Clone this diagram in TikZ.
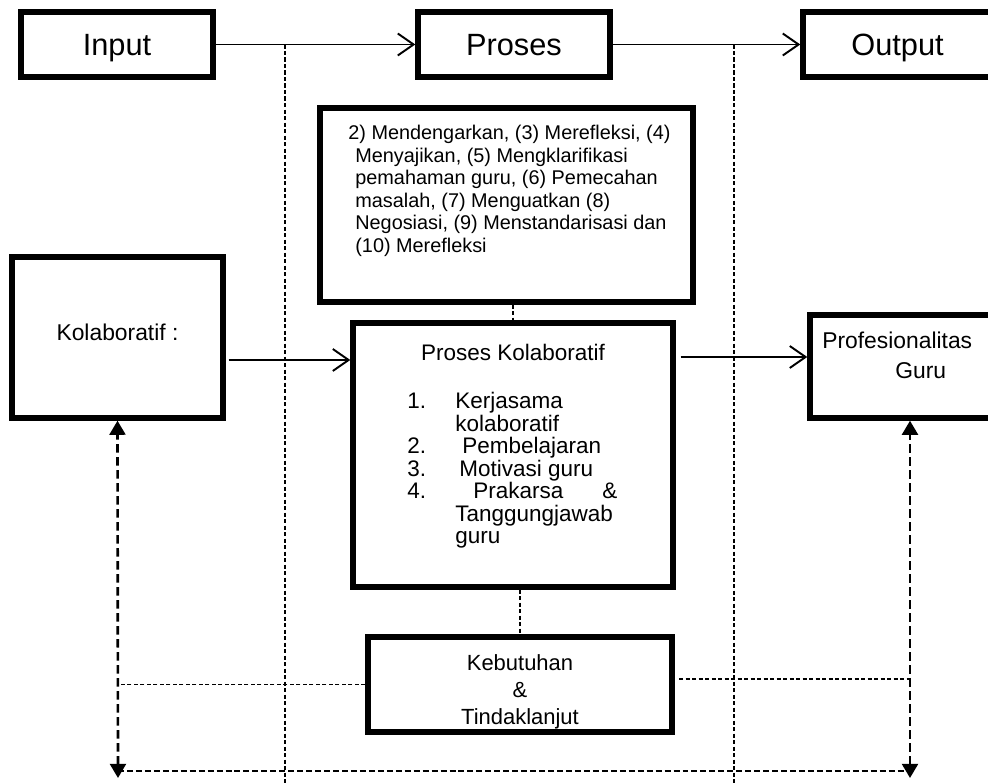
\documentclass[tikz,border=0pt]{standalone}
\usepackage{fontspec}
\setmainfont{Liberation Sans}
\usetikzlibrary{arrows.meta, calc, positioning}

\begin{document}
\begin{tikzpicture}[
    x=0.02cm, y=-0.02cm,
    box/.style={rectangle, draw, line width=3.1pt, inner sep=0pt},
    head/.style={font=\fontsize{17.5}{20}\selectfont, text height=15pt, text depth=3pt},
    small/.style={font=\fontsize{11.3}{12.8}\selectfont, align=left, inner sep=0pt},
    mid/.style={font=\fontsize{12.8}{12.8}\selectfont, inner sep=0pt},
    arrow/.style={-{Straight Barb[length=9pt, width=12.5pt, line width=1.1pt]}, line width=1.1pt},
    thindash/.style={line width=0.7pt, dash pattern=on 2.4pt off 1.3pt},
    backdash/.style={line width=1.1pt, dash pattern=on 3.4pt off 1.7pt},
    sidearrow/.style={{Triangle[length=8pt, width=9pt]}-{Triangle[length=8pt, width=9pt]}, line width=1.5pt, dash pattern=on 4.8pt off 2.6pt}
]
\useasboundingbox (0,0) rectangle (988,783);

% kotak atas
\node[box, head, minimum width=3.84cm, minimum height=1.3cm] (in) at (117,44.5) {Input};
\node[box, head, minimum width=3.84cm, minimum height=1.3cm] (pr) at (514,44.5) {Proses};
\node[box, head, minimum width=3.84cm, minimum height=1.3cm] (out) at (899,44.5) {\hspace*{-0.06cm}Output};

% langkah-langkah
\node[box, minimum width=7.46cm, minimum height=3.88cm] (steps) at (506.5,205) {};
\node[small, anchor=north west] (stepstxt) at (348,125) {2) Mendengarkan, (3) Merefleksi, (4)\\
\hspace*{0.14cm}Menyajikan, (5) Mengklarifikasi\\
\hspace*{0.14cm}pemahaman guru, (6) Pemecahan\\
\hspace*{0.14cm}masalah, (7) Menguatkan (8)\\
\hspace*{0.14cm}Negosiasi, (9) Menstandarisasi dan\\
\hspace*{0.14cm}(10) Merefleksi};

% kotak tengah
\node[box, font=\fontsize{13}{15}\selectfont, minimum width=4.22cm, minimum height=3.22cm] (kol) at (117.5,337.5) {\raisebox{0.1cm}[\height][\depth]{Kolaboratif :}};
\node[box, minimum width=6.4cm, minimum height=5.28cm] (pk) at (513,455) {};
\node[mid] (pktitle) at (513,352) {Proses Kolaboratif};
\node[mid, align=left, anchor=north west, font=\fontsize{12.8}{12.8}\selectfont] (pklist) at (407,392) {%
\makebox[0.96cm][l]{1.}Kerjasama\\
\hspace*{0.96cm}kolaboratif\\
\makebox[1.1cm][l]{2.}Pembelajaran\\
\makebox[1.04cm][l]{3.}Motivasi guru\\
\makebox[1.32cm][l]{4.}Prakarsa\hspace*{0.78cm}\&\\
\hspace*{0.96cm}Tanggungjawab\\
\hspace*{0.96cm}guru};
\node[box, minimum width=4cm, minimum height=2.06cm] (prof) at (910,366.5) {};
\node[align=left, anchor=north west, inner sep=0pt, font=\fontsize{13}{17}\selectfont] (proftxt) at (822,332) {Profesionalitas\\\hspace*{1.46cm}Guru};

% kotak bawah
\node[box, align=center, font=\fontsize{12.5}{15.3}\selectfont, minimum width=6.08cm, minimum height=1.9cm] (kt) at (520,684.5) {\raisebox{-0.15cm}[\height][\depth]{\begin{tabular}{@{}c@{}}Kebutuhan\\\&\\Tindaklanjut\end{tabular}}};

% titik bantu
\coordinate (d1t) at (285,44.5);
\coordinate (d1b) at (285,783);
\coordinate (d2t) at (734,44.5);
\coordinate (d2b) at (734,783);
\coordinate (lb) at (118,778);
\coordinate (rb) at (910,778);
\coordinate (lbh) at (118,771);
\coordinate (rbh) at (910,771);
\coordinate (kr) at (679,679);

% panah utama
\draw[arrow] (in) -- (pr);
\draw[arrow] (pr) -- (out);
\draw[arrow] ([xshift=0.06cm,yshift=-0.45cm]kol.east) -- ([yshift=-0.45cm]kol.east -| pk.west);
\draw[arrow] ([xshift=0.1cm,yshift=0.19cm]pk.east |- prof.west) -- ([yshift=0.19cm]prof.west);

% garis putus-putus
\draw[thindash] (d1t) -- (d1b);
\draw[thindash] (d2t) -- (d2b);
\draw[thindash] (steps.south -| pk.north) -- (pk.north);
\draw[thindash] (pk.south -| kt.north) -- (kt.north);
\draw[thindash] (kt.west) -- (kt.west -| lb);
\draw[thindash] (kr) -- (kr -| rb);
\draw[backdash] (lbh) -- (rbh);
\draw[sidearrow] (lb) -- (kol.south);
\draw[sidearrow] (rb) -- (prof.south);

\end{tikzpicture}
\end{document}
